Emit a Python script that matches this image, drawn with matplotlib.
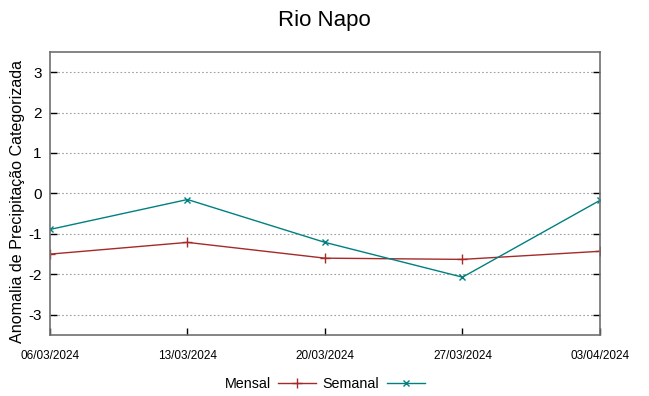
import matplotlib
matplotlib.use("Agg")
import matplotlib.pyplot as plt
import pandas as pd

plt.rcParams['font.family'] = ['Liberation Sans', 'DejaVu Sans']

# donnees
datas = ['06/03/2024', '13/03/2024', '20/03/2024', '27/03/2024', '03/04/2024']
mensal = [-1.50, -1.21, -1.60, -1.63, -1.43]
semanal = [-0.89, -0.15, -1.21, -2.07, -0.17]
yticks = [-3, -2, -1, 0, 1, 2, 3]

x = pd.to_datetime(datas, dayfirst=True)

fig = plt.figure(figsize=(6.49, 3.96), dpi=100)
ax = fig.add_axes([0.077, 0.154, 0.8475, 0.715])

ax.plot(x, mensal, color='#a52a2a', lw=1, marker='+', ms=7, mew=1, label='Mensal')
ax.plot(x, semanal, color='#008080', lw=1, marker='x', ms=5, mew=1, label='Semanal')

ax.set_xlim(x[0], x[-1])
ax.set_ylim(-3.5, 3.5)
ax.set_xticks(x)
ax.set_xticklabels(datas, fontsize=8.5)
ax.set_yticks(yticks)
ax.set_yticklabels([str(v) for v in yticks], fontsize=11)
ax.tick_params(axis='both', direction='in', length=5, width=1, color='black',
               top=False, right=True)
ax.tick_params(axis='x', pad=11)
ax.tick_params(axis='y', pad=6)
ax.grid(axis='y', color='#a0a0a0', linestyle=(0, (1.5, 2)), lw=0.8)
for s in ax.spines.values():
    s.set_color('#707070')
    s.set_linewidth(1.2)

ax.set_ylabel('Anomalia de Precipitação Categorizada', fontsize=11.6)
ax.yaxis.set_label_coords(-0.045, 0.47)
fig.suptitle('Rio Napo', fontsize=16, y=0.975)

fig.legend(loc='lower center', ncol=2, frameon=False, markerfirst=False,
           fontsize=10.3, bbox_to_anchor=(0.5, -0.02), handlelength=2.65,
           columnspacing=0.5, handletextpad=0.5)

plt.savefig('out.png', dpi=100)
